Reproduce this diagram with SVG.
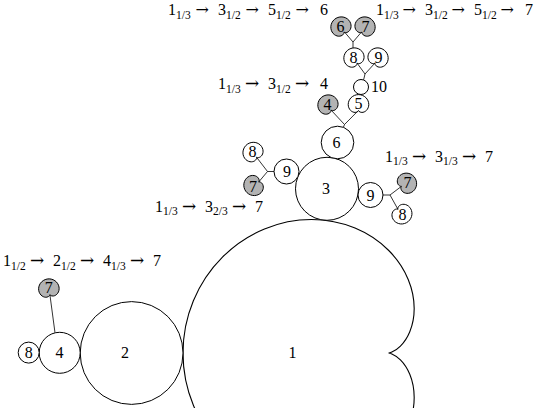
<svg xmlns="http://www.w3.org/2000/svg" xmlns:xlink="http://www.w3.org/1999/xlink" width="537" height="408" viewBox="0 0 537 408">
<style>
.o{fill:#fff;stroke:#000;stroke-width:1.1}
.w{fill:#fff;stroke:#000;stroke-width:1}
.g{fill:#b3b3b3;stroke:#000;stroke-width:1}
.l{fill:none;stroke:#000;stroke-width:0.8}
text{font-family:"Liberation Serif","DejaVu Serif",serif;fill:#000}
.n{font-size:16px;text-anchor:middle}
.t{font-size:16px}
.s{font-size:11.5px}
.a{font-family:"DejaVu Serif",serif;font-size:17px}
.a2{font-family:"DejaVu Serif",serif;font-size:16px}
</style>
<defs>
<path id="mc" vector-effect="non-scaling-stroke" d="M0,0 C0,0 0.469,-0.028 1.044,-0.603 C1.619,-1.178 2.25,-2.326 2.25,-3.897 C2.25,-5.468 1.571,-7.429 0,-9 C-1.571,-10.571 -4.029,-11.691 -6.75,-11.691 C-9.471,-11.691 -12.398,-10.543 -14.544,-8.397 C-16.690,-6.251 -18,-3.142 -18,0 C-18,3.142 -16.690,6.251 -14.544,8.397 C-12.398,10.543 -9.471,11.691 -6.75,11.691 C-4.029,11.691 -1.571,10.571 0,9 C1.571,7.429 2.25,5.468 2.25,3.897 C2.25,2.326 1.619,1.178 1.044,0.603 C0.469,0.028 0,0 0,0 Z"/>
</defs>

<g id="n1">
<path class="o" d="M388.5,353 C388.5,353 389.72,352.99 391.88,352.09 C394.04,351.19 397.14,349.40 400.42,346.12 C403.70,342.84 407.15,338.06 409.78,331.72 C412.41,325.38 414.19,317.48 414.19,308.51 C414.19,299.54 412.39,289.53 408.21,279.44 C404.03,269.35 397.47,259.22 388.5,250.25 C379.53,241.28 368.16,233.50 355.02,228.06 C341.88,222.62 326.97,219.52 311.44,219.52 C295.91,219.52 279.78,222.63 264.47,228.97 C249.16,235.31 234.70,244.88 222.45,257.13 C210.20,269.38 200.18,284.29 193.38,300.72 C186.58,317.15 183,335.07 183,353 C183,370.93 186.58,388.85 193.38,405.28 C200.18,421.71 210.20,436.62 222.45,448.87 C234.70,461.12 249.16,470.69 264.47,477.03 C279.78,483.37 295.91,486.48 311.44,486.48 C326.97,486.48 341.88,483.38 355.02,477.94 C368.16,472.50 379.53,464.72 388.5,455.75 C397.47,446.78 404.03,436.65 408.21,426.56 C412.39,416.47 414.19,406.46 414.19,397.49 C414.19,388.52 412.41,380.62 409.78,374.28 C407.15,367.94 403.70,363.16 400.42,359.88 C397.14,356.60 394.04,354.81 391.88,353.91 C389.72,353.01 388.5,353 388.5,353 Z"/>
<text class="n" x="292.5" y="358">1</text>
</g>

<g id="connectors">
<line class="l" x1="49.9" y1="294.6" x2="55" y2="332.8"/>
<line class="l" x1="256.5" y1="157.2" x2="267.5" y2="171.5"/>
<line class="l" x1="258.7" y1="182" x2="267.5" y2="171.5"/>
<line class="l" x1="267.5" y1="171.5" x2="274" y2="171.5"/>
<line class="l" x1="383" y1="195" x2="390" y2="195"/>
<line class="l" x1="390" y1="195" x2="401.5" y2="186.3"/>
<line class="l" x1="390" y1="195" x2="398" y2="209.4"/>
<line class="l" x1="331" y1="110" x2="344.5" y2="124.5"/>
<line class="l" x1="358.5" y1="110.4" x2="344.5" y2="124.5"/>
<line class="l" x1="344.5" y1="124.5" x2="343.4" y2="127.3"/>
<line class="l" x1="357" y1="63" x2="365" y2="74"/>
<line class="l" x1="375" y1="63" x2="365" y2="74"/>
<line class="l" x1="365" y1="74" x2="363.6" y2="79.9"/>
<line class="l" x1="344.5" y1="32" x2="353" y2="42"/>
<line class="l" x1="361.5" y1="32" x2="353" y2="42"/>
<line class="l" x1="353" y1="42" x2="353" y2="48"/>
</g>

<g id="n2"><circle class="w" cx="131.6" cy="353" r="51.4"/><text class="n" x="125" y="358">2</text></g>
<g id="n4"><circle class="w" cx="59.7" cy="352.8" r="20.5"/><text class="n" x="59.5" y="358">4</text></g>
<g id="n8a"><circle class="w" cx="28.7" cy="352.6" r="10.5"/><text class="n" x="28.7" y="358">8</text></g>
<g id="n7a"><use xlink:href="#mc" class="g" transform="translate(48.7,287.8) rotate(80) scale(0.88) translate(7.875,0)"/><text class="n" x="48.7" y="293">7</text></g>

<g id="n3"><circle class="w" cx="327" cy="188.8" r="31.5"/><text class="n" x="326" y="193.5">3</text></g>
<g id="n6"><circle class="w" cx="337.5" cy="142.5" r="16.3"/><text class="n" x="336.5" y="147.5">6</text></g>
<g id="n9L"><circle class="w" cx="286.5" cy="171.5" r="12.5"/><text class="n" x="287" y="177">9</text></g>
<g id="n8L"><use xlink:href="#mc" class="w" transform="translate(252.5,151.5) rotate(55) scale(0.88) translate(7.875,0)"/><text class="n" x="252.5" y="157">8</text></g>
<g id="n7L"><use xlink:href="#mc" class="g" transform="translate(253,186) rotate(-35) scale(0.88) translate(7.875,0)"/><text class="n" x="253" y="191.5">7</text></g>
<g id="n9R"><circle class="w" cx="370.5" cy="195" r="12.5"/><text class="n" x="370.5" y="200.5">9</text></g>
<g id="n7R"><use xlink:href="#mc" class="g" transform="translate(407.5,182.8) rotate(150) scale(0.88) translate(7.875,0)"/><text class="n" x="407.5" y="188.3">7</text></g>
<g id="n8R"><use xlink:href="#mc" class="w" transform="translate(402.5,214.7) rotate(230) scale(0.88) translate(7.875,0)"/><text class="n" x="402.5" y="220.2">8</text></g>

<g id="n4s"><use xlink:href="#mc" class="g" transform="translate(327.5,104) rotate(60) scale(0.88) translate(7.875,0)"/><text class="n" x="327.5" y="109.5">4</text></g>
<g id="n5"><use xlink:href="#mc" class="w" transform="translate(358.5,103.5) rotate(90) scale(0.88) translate(7.875,0)"/><text class="n" x="358.5" y="109">5</text></g>
<g id="n10"><circle class="w" cx="361" cy="87" r="7.5"/><text class="n" x="379" y="92">10</text></g>
<g id="n8t"><use xlink:href="#mc" class="w" transform="translate(353.5,57) rotate(60) scale(0.88) translate(7.875,0)"/><text class="n" x="353.5" y="62.5">8</text></g>
<g id="n9t"><use xlink:href="#mc" class="w" transform="translate(378.5,57) rotate(120) scale(0.88) translate(7.875,0)"/><text class="n" x="378.5" y="62.5">9</text></g>
<g id="n6s"><use xlink:href="#mc" class="g" transform="translate(340.5,26) rotate(60) scale(0.88) translate(7.875,0)"/><text class="n" x="340.5" y="31.5">6</text></g>
<g id="n7s"><use xlink:href="#mc" class="g" transform="translate(365.5,26) rotate(120) scale(0.88) translate(7.875,0)"/><text class="n" x="365.5" y="31.5">7</text></g>

<g id="labels">
<text class="t"><tspan x="168" y="15">1</tspan><tspan class="s" x="176" y="18.5">1/3</tspan><tspan class="a2" x="195.5" y="15">→</tspan><tspan x="218" y="15">3</tspan><tspan class="s" x="226" y="18.5">1/2</tspan><tspan class="a2" x="245.5" y="15">→</tspan><tspan x="268" y="15">5</tspan><tspan class="s" x="276" y="18.5">1/2</tspan><tspan class="a2" x="295.5" y="15">→</tspan><tspan x="320" y="15">6</tspan></text>
<text class="t"><tspan x="376" y="15">1</tspan><tspan class="s" x="384" y="18.5">1/3</tspan><tspan class="a2" x="402.5" y="15">→</tspan><tspan x="425" y="15">3</tspan><tspan class="s" x="433" y="18.5">1/2</tspan><tspan class="a2" x="451.5" y="15">→</tspan><tspan x="474" y="15">5</tspan><tspan class="s" x="482" y="18.5">1/2</tspan><tspan class="a2" x="500.5" y="15">→</tspan><tspan x="525" y="15">7</tspan></text>
<text class="t"><tspan x="218" y="89">1</tspan><tspan class="s" x="226" y="92.5">1/3</tspan><tspan class="a" x="245" y="89">→</tspan><tspan x="268" y="89">3</tspan><tspan class="s" x="276" y="92.5">1/2</tspan><tspan class="a" x="295" y="89">→</tspan><tspan x="320" y="89">4</tspan></text>
<text class="t"><tspan x="385" y="161.5">1</tspan><tspan class="s" x="393" y="165">1/3</tspan><tspan class="a" x="412" y="161.5">→</tspan><tspan x="435" y="161.5">3</tspan><tspan class="s" x="443" y="165">1/3</tspan><tspan class="a" x="462" y="161.5">→</tspan><tspan x="485" y="161.5">7</tspan></text>
<text class="t"><tspan x="155" y="211.5">1</tspan><tspan class="s" x="163" y="215">1/3</tspan><tspan class="a" x="182" y="211.5">→</tspan><tspan x="205" y="211.5">3</tspan><tspan class="s" x="213" y="215">2/3</tspan><tspan class="a" x="232" y="211.5">→</tspan><tspan x="255" y="211.5">7</tspan></text>
<text class="t"><tspan x="3" y="266">1</tspan><tspan class="s" x="11" y="269.5">1/2</tspan><tspan class="a" x="30" y="266">→</tspan><tspan x="53" y="266">2</tspan><tspan class="s" x="61" y="269.5">1/2</tspan><tspan class="a" x="80" y="266">→</tspan><tspan x="103" y="266">4</tspan><tspan class="s" x="111" y="269.5">1/3</tspan><tspan class="a" x="130" y="266">→</tspan><tspan x="153" y="266">7</tspan></text>
</g>
</svg>
